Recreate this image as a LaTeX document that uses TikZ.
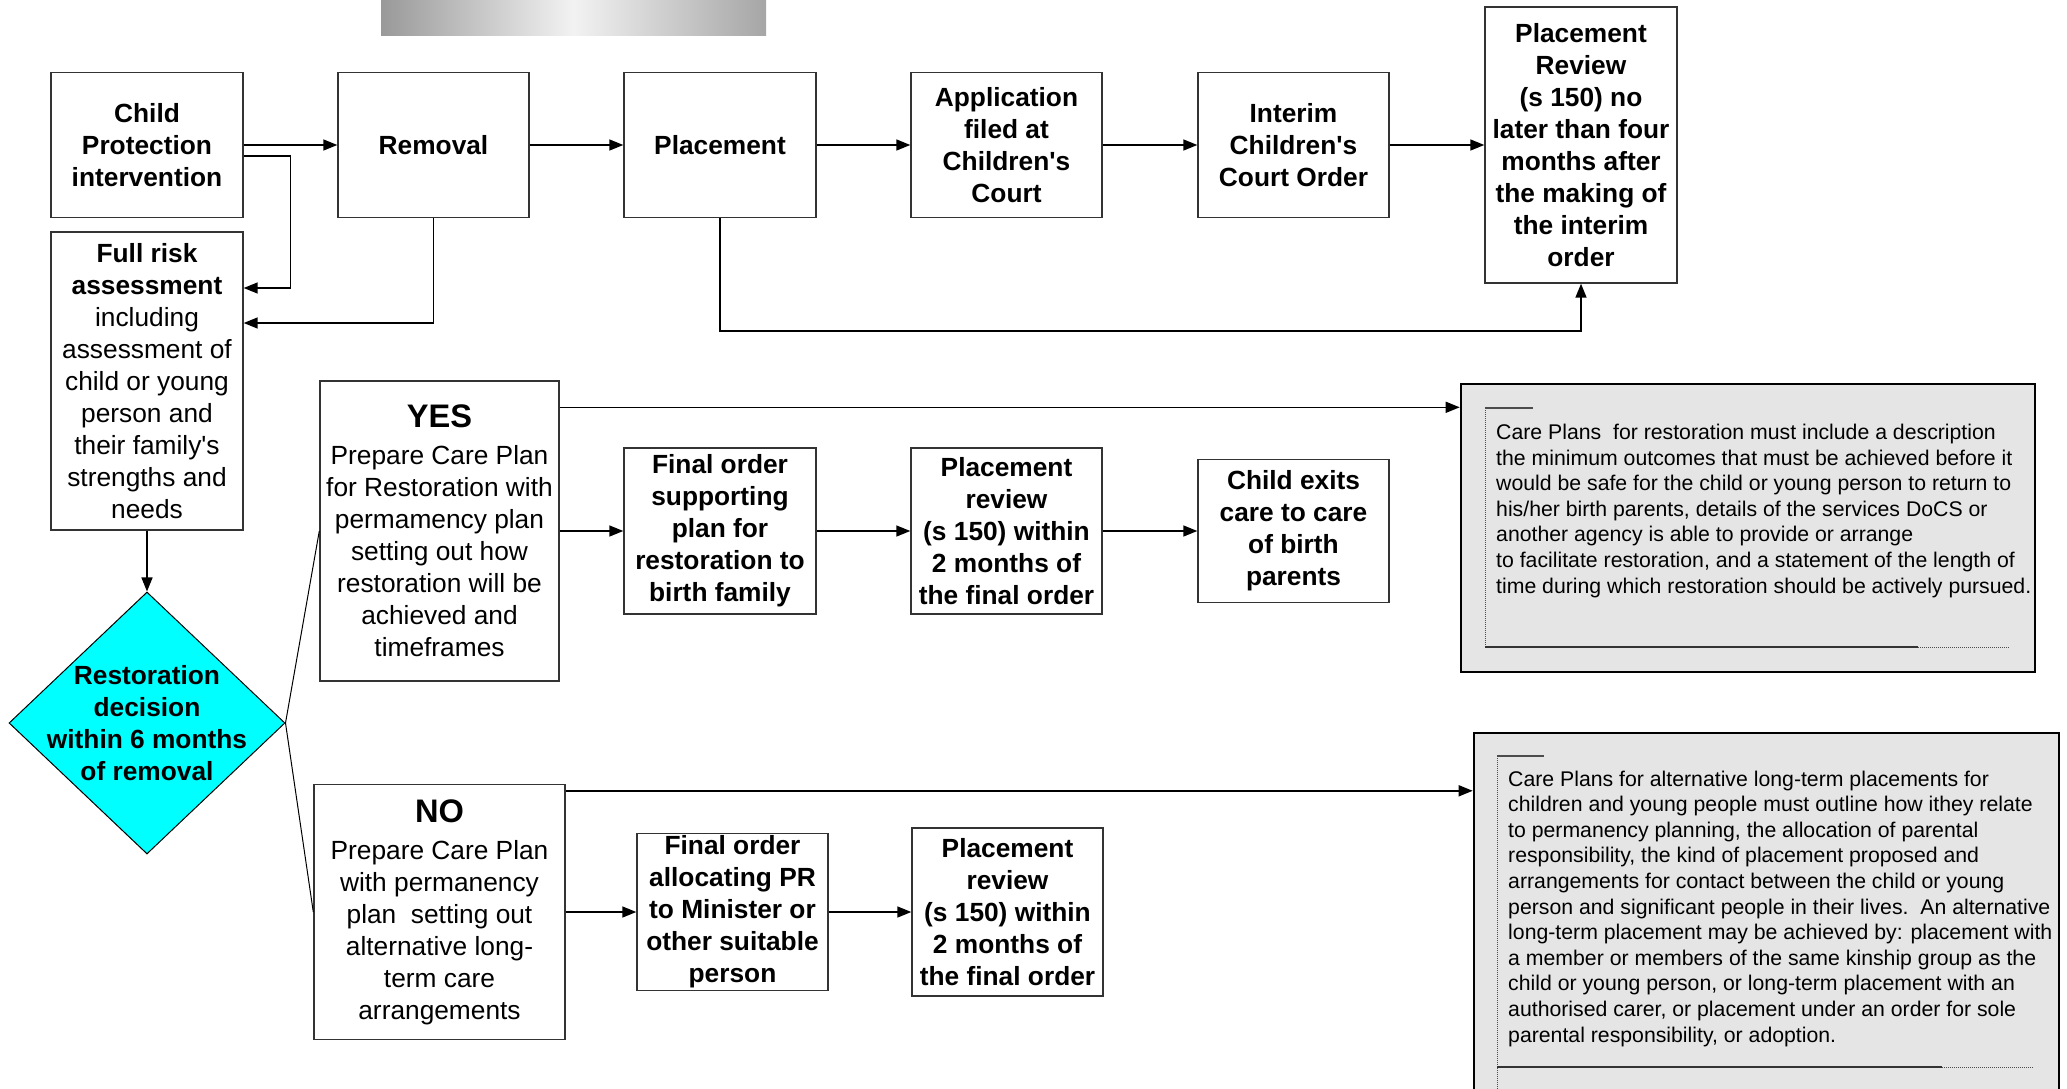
\documentclass[tikz,border=0pt]{standalone}
\usepackage{fontspec}
\setmainfont{Liberation Sans}
\usetikzlibrary{shapes.geometric,arrows.meta}

\definecolor{aqua}{RGB}{0,255,255}
\newcommand{\apos}{\textquotesingle}

\tikzset{
  stage/.style={draw=black!80, line width=1.4pt, align=center, inner sep=0pt,
    font=\fontsize{26.3}{32}\selectfont\bfseries},
  plan/.style={stage, font=\fontsize{26.3}{32}\selectfont},
  notebox/.style={draw, line width=2.6pt, fill=black!10},
  notetext/.style={align=left, inner sep=0pt, anchor=base west,
    font=\fontsize{21.25}{25.6}\selectfont},
  flow/.style={->, line width=1.5pt},
}

\begin{document}
\begin{tikzpicture}[x=1pt, y=-1pt, >={Triangle[length=14pt,width=11pt]}]
\useasboundingbox (0,0) rectangle (2067,1089);
% banner at the top
\shade[left color=black!40, right color=black!35, middle color=black!5] (381,0) rectangle (766,36);

% first row
\node[stage, minimum width=192pt, minimum height=145pt] (cpi) at (147,145) {Child\\Protection\\intervention};
\node[stage, minimum width=191pt, minimum height=145pt] (rem) at (433.5,145) {Removal};
\node[stage, minimum width=192pt, minimum height=145pt] (plc) at (720,145) {Placement};
\node[stage, minimum width=191pt, minimum height=145pt] (app) at (1006.5,145) {Application\\filed at\\Children\apos s\\Court};
\node[stage, minimum width=191pt, minimum height=145pt] (icc) at (1293.5,145) {Interim\\Children\apos s\\Court Order};
\node[stage, minimum width=192pt, minimum height=276pt] (rev) at (1581,145) {Placement\\Review\\(s 150) no\\later than four\\months after\\the making of\\the interim\\order};

\node[plan, minimum width=192pt, minimum height=298pt] (risk) at (147,381) {\textbf{Full risk}\\\textbf{assessment}\\including\\assessment of\\child or young\\person and\\their family\apos s\\strengths and\\needs};

% decision
\node[draw, diamond, fill=aqua, line width=1pt, minimum width=276pt, minimum height=262pt, inner sep=0pt] (dec) at (147,723) {};
\node[align=center, inner sep=0pt, font=\fontsize{26.3}{32}\selectfont\bfseries] (dectext) at (dec) {Restoration\\decision\\within 6 months\\of removal};

% restoration branch
\node[plan, minimum width=239pt, minimum height=300pt] (yes) at (439.5,531) {{\fontsize{32.6}{38}\selectfont\bfseries YES}\\[5pt]Prepare Care Plan\\for Restoration with\\permamency plan\\setting out how\\restoration will be\\achieved and\\timeframes};
\node[stage, minimum width=192pt, minimum height=166pt] (fos) at (720,531) {Final order\\supporting\\plan for\\restoration to\\birth family};
\node[stage, minimum width=191pt, minimum height=166pt] (pry) at (1006.5,531) {Placement\\review\\(s 150) within\\2 months of\\the final order};
\node[stage, minimum width=191pt, minimum height=143pt] (exit) at (1293.5,531) {Child exits\\care to care\\of birth\\parents};

% alternative branch
\node[plan, minimum width=251pt, minimum height=255pt] (no) at (439.5,912) {{\fontsize{32.6}{38}\selectfont\bfseries NO}\\[5pt]Prepare Care Plan\\with permanency\\plan\ \ setting out\\alternative long-\\term care\\arrangements};
\node[stage, minimum width=191pt, minimum height=157pt] (foa) at (732.5,912) {Final order\\allocating PR\\to Minister or\\other suitable\\person};
\node[stage, minimum width=191pt, minimum height=168pt] (prn) at (1007.5,912) {Placement\\review\\(s 150) within\\2 months of\\the final order};

% notes (base of a text block is its last line)
\node[notebox, minimum width=574pt, minimum height=288pt] (rnote) at (1748,528) {};
\draw[black!70, line width=1.2pt] (1485,408) -- (1533,408);
\draw[black!70, densely dotted, line width=1pt] (1485,408) -- (1485,647);
\draw[black!80, line width=1.2pt] (1485,647) -- (1918,647);
\draw[black!70, densely dotted, line width=1pt] (1918,647) -- (2010,647);
\node[notetext] (rtext) at (1496,593) {Care Plans\ \ for restoration must include a description\\the minimum outcomes that must be achieved before it\\would be safe for the child or young person to return to\\his/her birth parents, details of the services DoCS or\\another agency is able to provide or arrange\\to facilitate restoration, and a statement of the length of\\time during which restoration should be actively pursued.};

\node[notebox, minimum width=585pt, minimum height=377pt] (anote) at (1766.5,921.5) {};
\draw[black!70, line width=1.2pt] (1497,756) -- (1544,756);
\draw[black!70, densely dotted, line width=1pt] (1497,756) -- (1497,1089);
\draw[black!80, line width=1.2pt] (1497,1067) -- (1942,1067);
\draw[black!70, densely dotted, line width=1pt] (1942,1067) -- (2034,1067);
\node[notetext] (atext) at (1508,1042) {Care Plans for alternative long-term placements for\\children and young people must outline how ithey relate\\to permanency planning, the allocation of parental\\responsibility, the kind of placement proposed and\\arrangements for contact between the child or young\\person and significant people in their lives.\ \ An alternative\\long-term placement may be achieved by: placement with\\a member or members of the same kinship group as the\\child or young person, or long-term placement with an\\authorised carer, or placement under an order for sole\\parental responsibility, or adoption.};

% connectors
\draw[flow] (cpi) -- (rem);
\draw[flow] (rem) -- (plc);
\draw[flow] (plc) -- (app);
\draw[flow] (app) -- (icc);
\draw[flow] (icc) -- (rev);
\draw[flow] ([yshift=-11pt]cpi.east) -- ++(47,0) |- ([yshift=93pt]risk.east);
\draw[flow] (rem.south) |- ([yshift=58pt]risk.east);
\draw[flow] (plc.south) -- ++(0,113) -| (rev.south);
\draw[flow] (risk) -- (dec);
\draw[line width=1pt] (dec.east) -- (yes.west);
\draw[line width=1pt] (dec.east) -- (no.west);
\coordinate (yestap) at ([yshift=-27pt]yes.north east);
\draw[flow] (yestap) -- (yestap -| rnote.west);
\draw[flow] (yes) -- (fos);
\draw[flow] (fos) -- (pry);
\draw[flow] (pry) -- (exit);
\coordinate (notap) at ([yshift=-7pt]no.north east);
\draw[flow] (notap) -- (notap -| anote.west);
\draw[flow] (no) -- (foa);
\draw[flow] (foa) -- (prn);
\end{tikzpicture}
\end{document}
